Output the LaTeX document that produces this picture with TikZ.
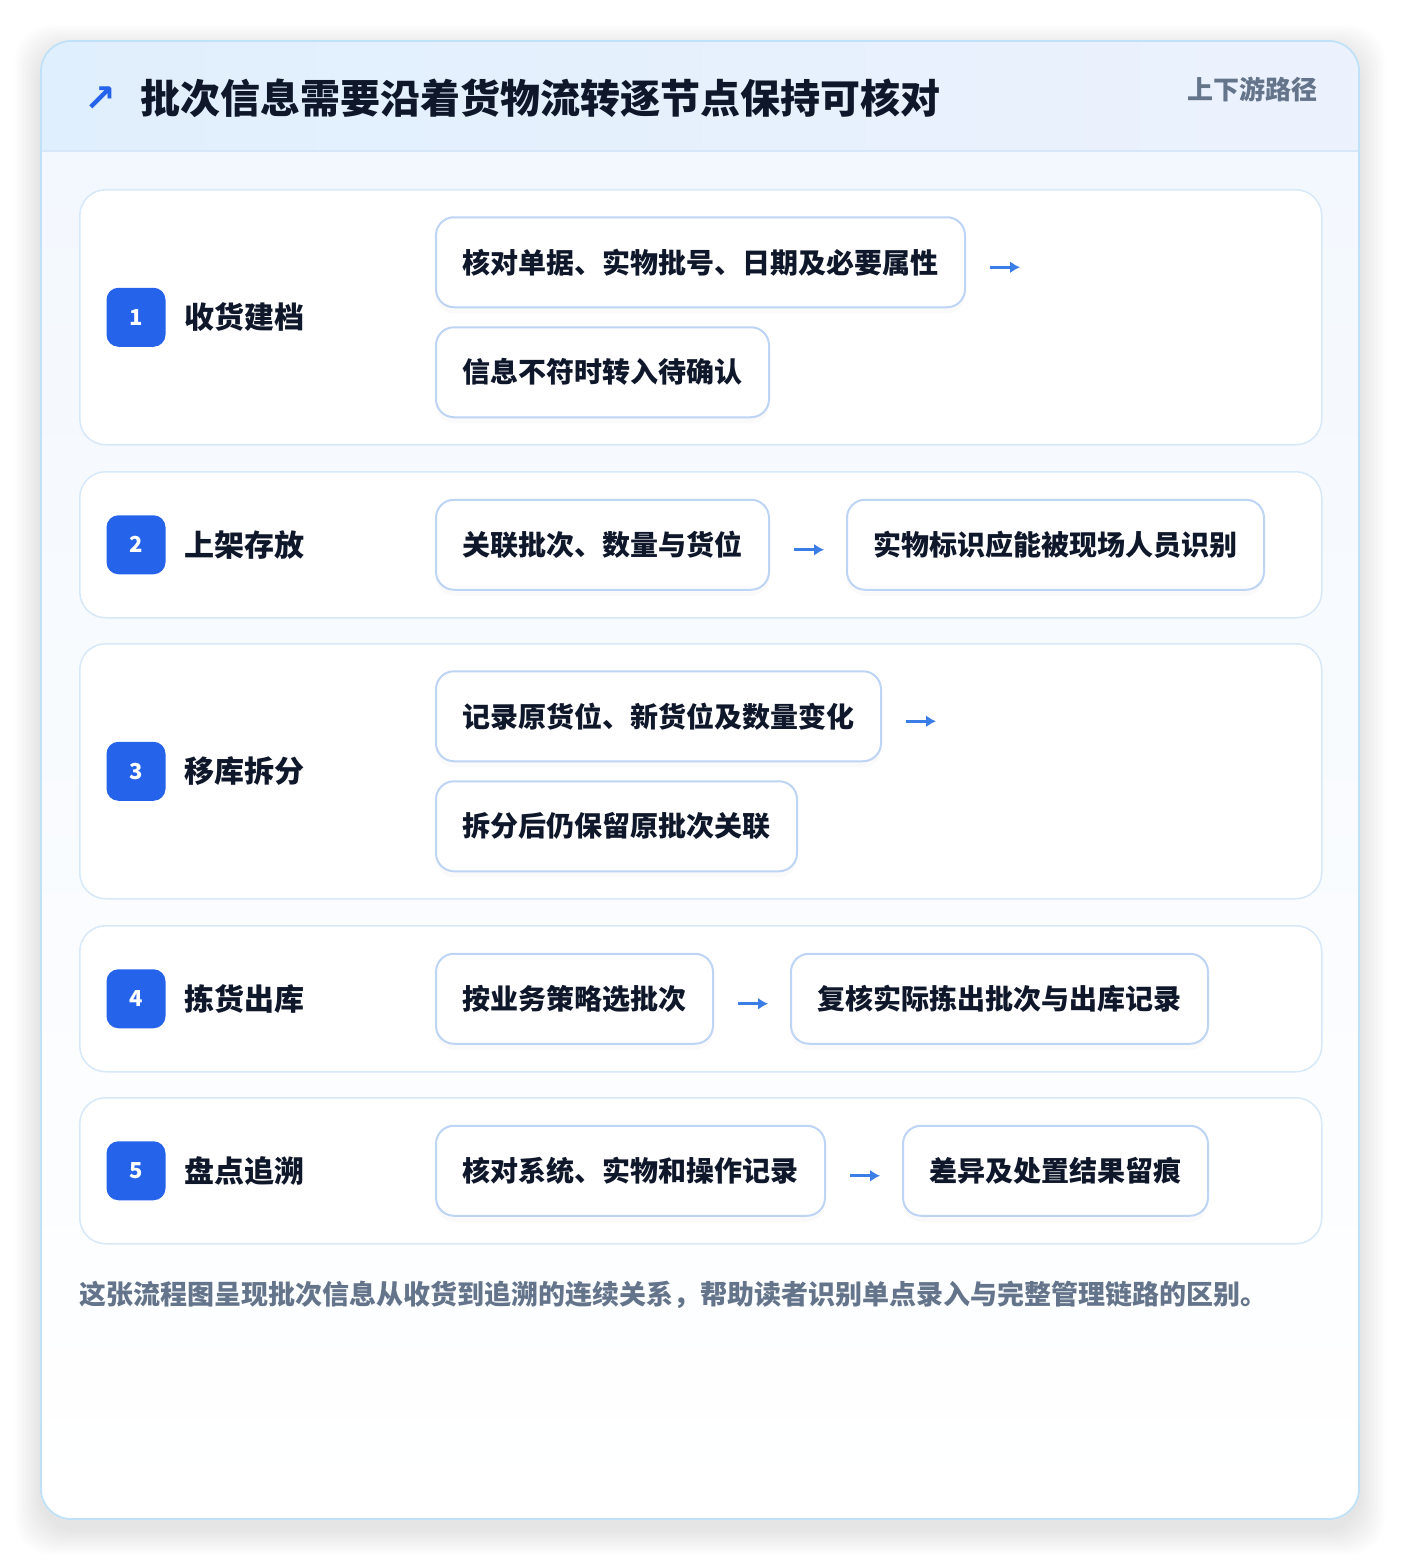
\documentclass[tikz,border=0pt]{standalone}
\usepackage{fontspec}
\setmainfont{Noto Sans CJK SC}
\newfontfamily\symfont{DejaVu Sans}
\usetikzlibrary{shadows, arrows.meta, positioning}

\definecolor{cardline}{RGB}{192,226,248}
\definecolor{headleft}{RGB}{224,239,253}
\definecolor{headright}{RGB}{236,242,253}
\definecolor{headline}{RGB}{214,231,250}
\definecolor{bodytop}{RGB}{243,248,254}
\definecolor{rowline}{RGB}{215,232,248}
\definecolor{boxline}{RGB}{190,212,245}
\definecolor{badgeblue}{RGB}{37,99,235}
\definecolor{ink}{RGB}{15,23,42}
\definecolor{muted}{RGB}{100,116,139}
\definecolor{arrowblue}{RGB}{59,125,230}

\tikzstyle{row} = [draw=rowline, line width=1.5pt, fill=white, rounded corners=26pt, minimum width=1242pt, anchor=north west, inner sep=0pt]
\tikzstyle{badge} = [fill=badgeblue, rounded corners=12pt, minimum size=59pt, inner sep=0pt, text=white, font=\bfseries\fontsize{22}{22}\selectfont]
\tikzstyle{steptitle} = [anchor=west, inner sep=0pt, text=ink, font=\bfseries\fontsize{30}{30}\selectfont]
\tikzstyle{item} = [draw=boxline, line width=2pt, fill=white, rounded corners=18pt, minimum height=90pt, inner xsep=26.5pt, text=ink, font=\bfseries\fontsize{28}{28}\selectfont, drop shadow={opacity=0.035, shadow xshift=0pt, shadow yshift=-6pt}]
\tikzstyle{flow} = [draw, line width=3pt, color=arrowblue, -{Latex[length=10pt, width=12pt]}, shorten <=24pt, shorten >=22pt]

\newcommand{\steprow}[4]{
  \node (r#1) [row, minimum height=#3pt] at (79,#2) {};
  \node (b#1) [badge] at ([xshift=57pt]r#1.west) {#1};
  \node (t#1) [steptitle, right=19pt of b#1] {#4};}

\begin{document}
\begin{tikzpicture}[x=1pt, y=-1pt]

		\useasboundingbox (0,0) rectangle (1400,1560);

		% Draw card with soft shadow
		\foreach \s in {2,4,...,26}
		  \fill[black, opacity=0.006, rounded corners=36pt] (41-\s,51-\s) rectangle (1359+\s,1529+\s);
		\begin{scope}
		  \clip[rounded corners=30pt] (41,41) rectangle (1359,1519);
		  \fill[top color=bodytop, bottom color=white] (41,151) rectangle (1359,1519);
		  \fill[left color=headleft, right color=headright] (41,41) rectangle (1359,151);
		  \draw[headline, line width=1.5pt] (41,151) -- (1359,151);
		\end{scope}
		\draw[cardline, line width=1.8pt, rounded corners=30pt] (41,41) rectangle (1359,1519);

		% Draw header texts
		\node (icon) [anchor=west, inner sep=0pt, text=badgeblue, font=\symfont\bfseries\fontsize{38}{38}\selectfont] at (84,99) {↗};
		\node (title) [anchor=west, inner sep=0pt, text=ink, font=\bfseries\fontsize{40}{40}\selectfont] at (140,98) {批次信息需要沿着货物流转逐节点保持可核对};
		\node (tag) [anchor=east, inner sep=0pt, text=muted, font=\bfseries\fontsize{26}{26}\selectfont] at (1318,89) {上下游路径};

		% Draw step rows
		\steprow{1}{189}{255}{收货建档}
		\steprow{2}{471}{146}{上架存放}
		\steprow{3}{643}{255}{移库拆分}
		\steprow{4}{925}{146}{拣货出库}
		\steprow{5}{1097}{146}{盘点追溯}

		% Draw item boxes
		\node (a1) [item, anchor=west] at ([xshift=356pt, yshift=55pt]r1.west) {核对单据、实物批号、日期及必要属性};
		\node (c1) [item, anchor=west] at ([xshift=356pt, yshift=-55pt]r1.west) {信息不符时转入待确认};
		\coordinate (e1) at ([xshift=76pt]a1.east);
		\node (a2) [item, anchor=west] at ([xshift=356pt]r2.west) {关联批次、数量与货位};
		\node (d2) [item, right=76pt of a2] {实物标识应能被现场人员识别};
		\node (a3) [item, anchor=west] at ([xshift=356pt, yshift=55pt]r3.west) {记录原货位、新货位及数量变化};
		\node (c3) [item, anchor=west] at ([xshift=356pt, yshift=-55pt]r3.west) {拆分后仍保留原批次关联};
		\coordinate (e3) at ([xshift=76pt]a3.east);
		\node (a4) [item, anchor=west] at ([xshift=356pt]r4.west) {按业务策略选批次};
		\node (d4) [item, right=76pt of a4] {复核实际拣出批次与出库记录};
		\node (a5) [item, anchor=west] at ([xshift=356pt]r5.west) {核对系统、实物和操作记录};
		\node (d5) [item, right=76pt of a5] {差异及处置结果留痕};

		% Draw arrows between elements
		\path [flow] ([yshift=-5pt]a1.east) -- ([yshift=-5pt]e1);
		\path [flow] ([yshift=-5pt]a2.east) -- ([yshift=-5pt]d2.west);
		\path [flow] ([yshift=-5pt]a3.east) -- ([yshift=-5pt]e3);
		\path [flow] ([yshift=-5pt]a4.east) -- ([yshift=-5pt]d4.west);
		\path [flow] ([yshift=-5pt]a5.east) -- ([yshift=-5pt]d5.west);

		% Draw footer note
		\node (note) [anchor=west, inner sep=0pt, text=muted, font=\bfseries\fontsize{27}{27}\selectfont] at (79,1295) {这张流程图呈现批次信息从收货到追溯的连续关系，帮助读者识别单点录入与完整管理链路的区别。};

	\end{tikzpicture}
\end{document}
